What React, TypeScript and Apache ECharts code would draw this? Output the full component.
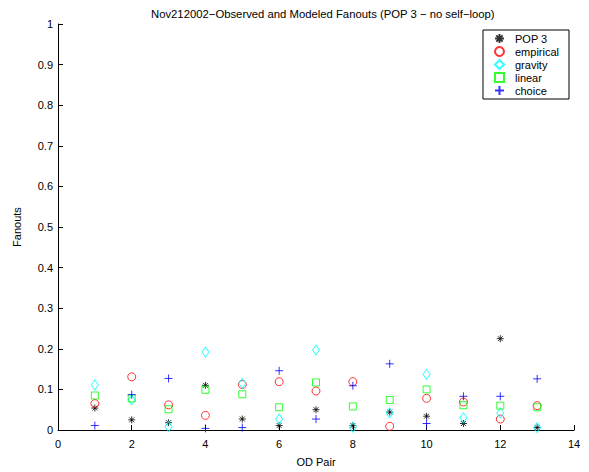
import React, { useEffect, useRef } from "react";
import * as echarts from "echarts";

const odPairs = [1, 2, 3, 4, 5, 6, 7, 8, 9, 10, 11, 12, 13];
const pop3 = [0.054, 0.025, 0.018, 0.110, 0.027, 0.011, 0.050, 0.011, 0.044, 0.034, 0.016, 0.225, 0.006];
const empirical = [0.065, 0.131, 0.062, 0.036, 0.112, 0.119, 0.096, 0.119, 0.009, 0.078, 0.069, 0.027, 0.060];
const gravity = [0.111, 0.074, 0.008, 0.192, 0.115, 0.027, 0.197, 0.007, 0.042, 0.137, 0.030, 0.042, 0.006];
const linear = [0.085, 0.078, 0.051, 0.099, 0.088, 0.056, 0.117, 0.058, 0.074, 0.100, 0.061, 0.060, 0.056];
const choice = [0.011, 0.087, 0.127, 0.004, 0.006, 0.146, 0.027, 0.109, 0.163, 0.016, 0.083, 0.083, 0.126];

const FONT = "Liberation Sans, Arial, Helvetica, sans-serif";

const ASTERISK = "path://M5,0L5,10M0,5L10,5M1.5,1.5L8.5,8.5M1.5,8.5L8.5,1.5";
const PLUS = "path://M5,0L5,10M0,5L10,5";

function mk(name: string, values: number[], symbol: string, size: number | number[], color: string) {
  return {
    name,
    type: "scatter",
    data: odPairs.map((x, i) => [x, values[i]]),
    symbol,
    symbolSize: size,
    itemStyle: { color: "transparent", borderColor: color, borderWidth: 1 },
    emphasis: { disabled: true },
  };
}

export default function App() {
  const ref = useRef<HTMLDivElement>(null);
  useEffect(() => {
    document.body.style.margin = "0";
    const chart = echarts.init(ref.current!, null, { renderer: "svg" });
    chart.setOption({
      animation: false,
      backgroundColor: "#fff",
      title: {
        text: "Nov212002\u2212Observed and Modeled Fanouts (POP 3 \u2212 no self\u2212loop)",
        left: 146,
        top: 3,
        textStyle: { fontFamily: FONT, fontSize: 11.3, fontWeight: "normal", color: "#000" },
      },
      grid: { left: 58, right: 15, top: 24, bottom: 41 },
      legend: {
        orient: "vertical",
        right: 20,
        top: 30,
        itemWidth: 9,
        itemHeight: 9,
        itemGap: 2,
        padding: [3, 10, 3, 11],
        borderColor: "#000",
        borderWidth: 1,
        backgroundColor: "#fff",
        textStyle: { fontFamily: FONT, fontSize: 11, color: "#000", padding: [0, 0, 0, 6] },
        data: ["POP 3", "empirical", "gravity", "linear", "choice"],
      },
      xAxis: {
        type: "value",
        min: 0,
        max: 14,
        interval: 2,
        name: "OD Pair",
        nameLocation: "middle",
        nameGap: 26,
        nameTextStyle: { fontFamily: FONT, fontSize: 11, color: "#000" },
        axisLine: { lineStyle: { color: "#000", width: 1 } },
        axisTick: { inside: true, length: 5, lineStyle: { color: "#000" } },
        axisLabel: { fontFamily: FONT, fontSize: 11, color: "#000", margin: 8 },
        splitLine: { show: false },
      },
      yAxis: {
        type: "value",
        min: 0,
        max: 1,
        interval: 0.1,
        name: "Fanouts",
        nameLocation: "middle",
        nameGap: 36,
        nameTextStyle: { fontFamily: FONT, fontSize: 11, color: "#000" },
        axisLine: { show: true, lineStyle: { color: "#000", width: 1 } },
        axisTick: { show: true, inside: true, length: 5, lineStyle: { color: "#000" } },
        axisLabel: { fontFamily: FONT, fontSize: 11, color: "#000", margin: 5 },
        splitLine: { show: false },
      },
      series: [
        mk("POP 3", pop3, ASTERISK, 7, "#000000"),
        mk("empirical", empirical, "circle", 8, "#ff0000"),
        mk("gravity", gravity, "diamond", [7, 10], "#00ffff"),
        mk("linear", linear, "rect", 7, "#00ff00"),
        mk("choice", choice, PLUS, 8, "#0000ff"),
      ],
    });
    return () => chart.dispose();
  }, []);
  return <div ref={ref} style={{ width: 589, height: 472 }} />;
}
